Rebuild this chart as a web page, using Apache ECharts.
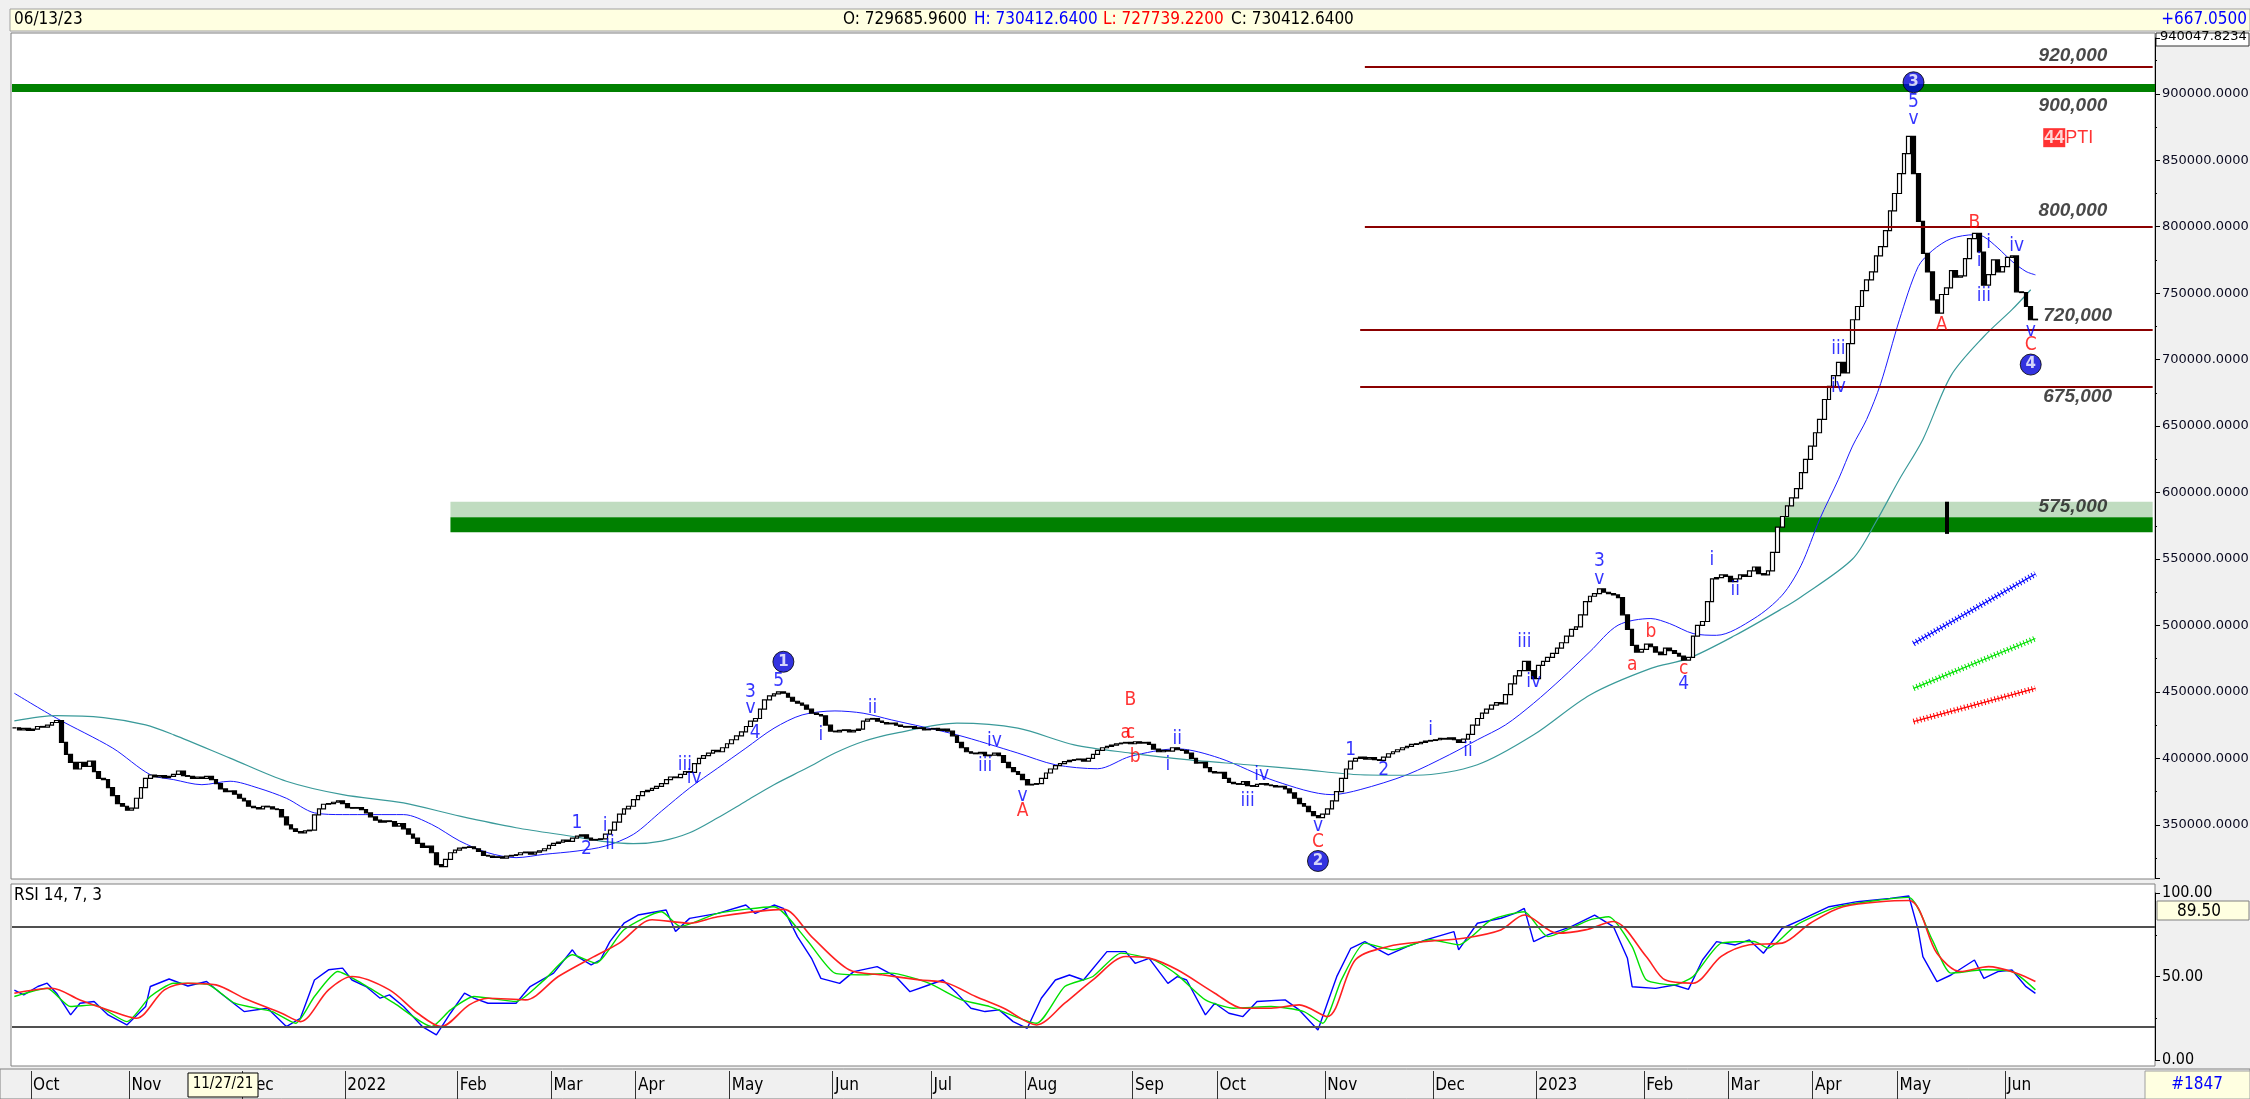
<!DOCTYPE html>
<html>
<head>
<meta charset="utf-8">
<script src="https://cdn.jsdelivr.net/npm/echarts@6/dist/echarts.min.js"></script>
<style>
html,body{margin:0;padding:0;background:#f0f0f0}
#chart{width:2250px;height:1099px}
</style>
</head>
<body>
<div id="chart"></div>
<script>
// month labels on the date strip and how many bars each month holds
var monthNames = ['Oct','Nov','Dec','2022','Feb','Mar','Apr','May','Jun','Jul','Aug','Sep','Oct','Nov','Dec','2023','Feb','Mar','Apr','May','Jun'];
var monthBars  = [21,24,22,24,20,18,20,22,21,20,23,18,23,23,22,23,18,18,18,23,7];
var leadBars = 4, padBars = 25;

// daily closes
var closes = [
423000,421500,422500,421000,422000,424000,423500,425000,427000,428500,
412000,403000,397000,392000,397000,394000,398000,390000,385000,384000,
378000,372000,366000,364000,361000,362500,370000,378000,385000,387500,
386000,387000,385500,386500,388000,390500,387000,386500,385000,386000,
385000,386500,384000,381000,377000,375000,375500,373000,370000,368000,
364000,363000,362000,364000,363500,362000,361500,356000,350000,347000,
345000,344000,345500,346000,357500,362000,365500,366000,367000,368000,
366000,363000,362500,363000,361500,359000,356000,353500,352000,353000,
352500,349000,351000,347000,343000,340000,336000,333000,334000,329000,
320000,318500,324000,329000,331000,332500,333000,333500,332000,330000,
327000,326500,325500,326000,325000,326500,327000,327500,329000,329500,
328000,329500,330500,332000,334500,336000,337000,338500,337500,340000,
341500,342500,340000,338500,339000,339500,343000,346000,352000,358000,
362000,364000,369000,372000,375000,376000,377500,379000,381000,384000,
386000,385500,388000,390000,389500,396000,400000,402000,404000,406000,
405000,408000,411000,414000,417000,420000,424000,428000,430000,437000,
444000,447000,448500,450000,449000,446000,443000,441500,440000,437000,
434000,433000,432000,425000,420500,420000,421000,421500,420000,421000,
422000,428000,429500,430000,428000,427000,426000,426500,425000,424000,
423500,424000,422500,423000,421500,422000,422500,421000,422000,420500,
417000,412000,408000,405000,404000,403500,404500,402000,402500,404000,
402000,397000,393000,390000,388000,384000,380000,380500,381000,385000,
389000,392000,394500,396000,397500,398500,399000,399500,398000,400000,
403000,406000,408000,409000,410000,411000,411500,412000,411000,412500,
411500,412000,410500,407000,405000,406000,405500,408000,406500,406000,
404000,400000,396500,397000,393000,390000,389000,389500,385000,382000,
381000,380500,382500,379500,379000,380500,381000,380000,379500,378500,
379000,377000,374000,370000,366000,364000,360000,357000,355500,358000,
362000,368000,375000,385000,392000,398000,400000,401000,399500,400500,
399000,398500,401000,403500,405000,406500,408000,409000,410500,411000,
412000,413000,413500,414000,415000,414500,415500,414000,412000,414500,
418000,425000,430000,434000,437000,440000,442000,441000,448000,456000,
462000,466000,473000,466000,460000,470000,473000,476000,479000,483000,
487000,492000,497000,499000,508000,518000,522000,524000,527500,525000,
524000,523000,521000,508000,497000,485000,480000,482000,486000,484000,
480000,478000,483000,481000,479000,477000,474000,476000,492000,500000,
503000,518000,535000,536000,538000,537000,533000,535000,538000,537000,
541000,544000,539000,538000,541000,555000,574000,582000,590000,596000,
603000,615000,625000,635000,645000,655000,670000,680000,688000,698000,
690000,712000,730000,740000,752000,760000,766000,778000,785000,797000,
812000,825000,840000,855000,868000,840000,804000,780000,766000,745000,
735000,749000,754000,767000,762000,763000,776000,791000,795000,781000,
756000,764000,775000,766000,770000,777000,778000,751000,750500,740000,
730000,730412.64
];

// moving averages read at [bar, price]
var maFast = [[0,449000],[9,430200],[21,407700],[29,387700],[34,384000],[40,380200],[46,382800],[52,377700],[58,370000],[64,359000],[70,357700],[83,357700],[89,350300],[95,337800],[101,329000],[107,325300],[113,327800],[120,330300],[126,334000],[132,342800],[138,360300],[144,377700],[150,392700],[156,407700],[162,422700],[168,432700],[175,435700],[181,434000],[187,429000],[201,417700],[214,404000],[222,395200],[231,392200],[238,401500],[248,407200],[257,400200],[269,382800],[281,372700],[287,376500],[297,387700],[306,402700],[312,414000],[318,425200],[324,441500],[330,460200],[336,480300],[342,500200],[349,505200],[353,501400],[358,493900],[363,492600],[371,505200],[377,522800],[381,545000],[385,580000],[389,610000],[392,635000],[395,655000],[398,682000],[402,730000],[406,770000],[409,782000],[413,791000],[418,794000],[420,792500],[423,784000],[426,774000],[429,766300],[431,763800]];
var maSlow = [[0,428200],[9,432200],[19,430700],[28,425200],[34,417700],[46,400200],[58,382800],[70,372700],[83,366500],[95,356500],[107,347800],[120,340800],[126,337300],[132,335800],[138,337800],[144,344000],[150,355300],[156,367800],[162,380200],[169,392700],[175,404000],[181,412700],[188,419000],[201,426500],[214,422700],[226,410200],[238,404000],[250,399000],[263,395200],[275,391500],[287,387700],[299,387300],[312,395200],[324,417700],[336,447700],[349,467700],[357,475200],[367,492600],[377,512700],[381,521500],[392,550000],[397,578000],[402,610000],[407,640000],[413,688000],[420,717400],[426,737600],[430,752600]];

// RSI 14, 7, 3 read at [bar, value]
var rsiMain = [[0,41.9],[2,39],[5,44],[7,46],[9,40],[12,27],[14,34],[17,35],[20,27],[24,21],[28,32],[29,44],[33,48.5],[37,44.3],[41,47],[44,40],[49,29],[54,31],[58,20],[61,25],[64,47.9],[67,54],[70,55],[72,47.9],[75,44],[78,37],[80,39],[83,32],[87,20],[90,15],[93,28],[96,40],[98,37],[101,34],[107,34],[110,44],[115,52],[119,66],[120,62],[123,57],[125,60],[127,70.9],[130,81.9],[133,86.8],[139,89.8],[141,76.9],[144,84.8],[150,87.8],[156,92.8],[158,87.8],[162,92.8],[164,90.8],[167,73.9],[170,60.9],[172,48.9],[176,45.9],[179,52.9],[184,55.9],[188,49.9],[191,40.9],[195,44.9],[198,47.9],[201,39.9],[204,31],[207,29],[210,30],[213,23],[216,19],[219,37],[222,47.9],[225,50.9],[228,47.9],[233,64.9],[237,64.9],[239,57.9],[242,60.9],[246,45.9],[248,49.9],[250,47.9],[254,27],[256,34],[259,28],[262,26],[265,35],[271,36],[274,30],[278,18],[280,34],[282,49.9],[285,66.9],[288,70.9],[291,65.9],[293,62.9],[297,67.9],[301,71.9],[307,76.9],[308,65.9],[312,81.9],[317,84.9],[320,87.8],[322,90.8],[324,70.9],[327,74.9],[332,79.9],[337,86.8],[341,79.9],[344,60.9],[345,43.9],[350,42.9],[354,44.9],[357,42.3],[360,59.9],[363,70.9],[367,68.9],[370,71.9],[373,63.9],[377,78.9],[381,83.9],[387,91.8],[393,94.8],[400,96.8],[404,98.2],[406,77.9],[407,61.9],[410,46.9],[413,50.9],[418,59.9],[420,48.9],[423,52.9],[426,53.9],[429,43.9],[431,39.9]];
var rsiFast = [[0,38],[7,43],[12,32],[17,33],[24,23],[29,38],[34,46],[41,45.5],[47,34],[55,29],[60,22],[64,38],[69,53],[74,46],[81,34],[89,20],[93,30],[98,38],[107,35],[113,48],[119,63],[124,58],[130,78],[138,88.8],[142,80],[150,87.8],[162,91.8],[169,71.9],[175,52],[181,51],[187,52],[195,46],[202,36],[208,32],[218,22],[224,44],[230,50],[236,64],[243,60],[248,51],[254,36],[260,31],[268,32],[275,29],[279,22],[283,48],[288,70],[294,66],[302,72],[308,69],[315,84],[322,88.8],[327,73.9],[336,83.9],[340,85.8],[345,67.9],[348,48],[354,45],[358,50],[364,70],[371,71],[374,67],[380,80.8],[389,91.8],[404,97.4],[409,71.9],[413,52],[420,54],[426,53],[431,42]];
var rsiSlow = [[0,40],[8,43],[14,36],[20,30],[26,25],[32,42],[37,46],[43,45],[49,37],[57,28],[61,23],[67,42],[72,50],[80,42],[86,28],[91,20],[97,33],[101,37],[109,36],[116,50],[123,61],[129,70],[136,84],[144,81.9],[150,85.8],[164,90.2],[170,73.9],[178,54],[185,51],[193,48],[199,46],[205,38],[211,31],[218,21],[224,34],[230,48],[237,62],[242,61],[248,54],[256,40],[262,31],[268,31],[274,33],[280,26],[286,60],[293,68],[301,71],[309,72.9],[317,77.9],[322,86.8],[329,75.9],[335,77.9],[341,82.9],[348,62],[352,48],[358,46],[364,62],[370,69],[377,70],[383,81.9],[390,91.8],[404,95.5],[410,63.9],[415,53],[421,55.9],[427,52],[431,47]];

// horizontal price levels [start bar, price]
var levelLines = [[288,920000],[288,800000],[287,722500],[287,679500]];
var greenLevel = 904500;
var zoneLight = [93,593100,581400];
var zoneDark = [93,581400,570200];
var markerBar = [412,593100,568900];
var levelTexts = [[439,928700,'920,000'],[439,891200,'900,000'],[439,812000,'800,000'],[440,733000,'720,000'],[440,672000,'675,000'],[439,589000,'575,000']];

// short trend lines [bar, price] pairs
var trendBlue  = [[405,486400],[431,538800]];
var trendGreen = [[405,452700],[431,490200]];
var trendRed   = [[405,427700],[431,452700]];

// Elliott wave labels [bar, price, text, colour]
var waveLabels = [
[120,351600,'1','b'],[122,332000,'2','b'],[126,349000,'i','b'],[127,335300,'ii','b'],
[143,395200,'iii','b'],[145,385000,'iv','b'],[157,450000,'3','b'],[157,437700,'v','b'],
[158,419000,'4','b'],[163,458000,'5','b'],[172,417700,'i','b'],[183,437700,'ii','b'],
[209,412800,'iv','b'],[207,394000,'iii','b'],[215,371500,'v','b'],[215,360000,'A','r'],
[238,444000,'B','r'],[237,419000,'a','r'],[238,419000,'c','r'],[239,400800,'b','r'],
[246,395200,'i','b'],[248,414700,'ii','b'],[263,368000,'iii','b'],[266,387700,'iv','b'],
[278,349000,'v','b'],[278,337300,'C','r'],[285,406000,'1','b'],[292,391500,'2','b'],
[302,421500,'i','b'],[310,405300,'ii','b'],[322,487700,'iii','b'],[324,457200,'iv','b'],
[338,548400,'3','b'],[338,535000,'v','b'],[345,470000,'a','r'],[349,495200,'b','r'],
[356,467200,'c','r'],[356,456000,'4','b'],[362,548900,'i','b'],[367,526400,'ii','b'],
[389,707600,'iii','b'],[389,679500,'iv','b'],[405,893700,'5','b'],[405,881200,'v','b'],
[418,803000,'B','r'],[421,787600,'i','b'],[419,773800,'i','b'],[420,747500,'iii','b'],
[427,785500,'iv','b'],[411,726300,'A','r'],[430,721300,'v','b'],[430,711300,'C','r']
];
var waveCircles = [[164,472700,'1'],[278,322800,'2'],[405,908700,'3'],[430,696300,'4']];
var ptiMark = [438,867000];

var FN = '"Liberation Sans Narrow","DejaVu Sans Condensed","Liberation Sans",sans-serif';
var FA = '"DejaVu Sans",sans-serif';

var cats = [], monthAt = {};
var n = leadBars;
for (var m = 0; m < monthNames.length; m++) { monthAt[n] = monthNames[m]; n += monthBars[m]; }
var total = n + padBars, lastIdx = total - 1;
for (var i = 0; i < total; i++) cats.push(String(i));

var ohlc = closes.map(function (c, i) {
  var o = i ? closes[i - 1] : c;
  return [o, c, Math.min(o, c), Math.max(o, c)];
});

function isMonth(idx) { return monthAt[idx] !== undefined; }

function trendSeries(data, color) {
  return [
    {type:'line', xAxisIndex:0, yAxisIndex:0, data:data, symbol:'none', z:4, silent:true,
     lineStyle:{color:color, width:1.2}},
    {type:'line', xAxisIndex:0, yAxisIndex:0, data:data, symbol:'none', z:4, silent:true,
     lineStyle:{color:color, width:6, type:[1,2.5]}}
  ];
}

var chart = echarts.init(document.getElementById('chart'));
var option = {
  animation: false,
  backgroundColor: '#f0f0f0',
  textStyle: {fontFamily: FN},
  grid: [
    {left:12, right:95, top:38, height:840, show:false, containLabel:false, outerBoundsMode:'none'},
    {left:12, right:95, top:893, height:167, show:false, containLabel:false, outerBoundsMode:'none'},
    {left:12, right:95, top:1071, height:28, show:false, containLabel:false, outerBoundsMode:'none'}
  ],
  xAxis: [
    {type:'category', gridIndex:0, data:cats, show:false},
    {type:'category', gridIndex:1, data:cats, show:false},
    {type:'category', gridIndex:2, data:cats,
     axisLine:{show:false},
     axisTick:{show:true, inside:true, length:28, interval:function (idx) { return isMonth(idx); }, lineStyle:{color:'#333', width:1}},
     axisLabel:{inside:true, interval:function (idx) { return isMonth(idx); }, formatter:function (v, idx) { return monthAt[idx] || ''; },
       align:'left', margin:5, fontSize:17, color:'#000', fontFamily:FN},
     splitLine:{show:false}}
  ],
  yAxis: [
    {type:'value', gridIndex:0, position:'right', min:310000, max:942000, splitNumber:13,
     axisLine:{show:true, onZero:false, lineStyle:{color:'#000'}},
     axisTick:{show:true, length:5, lineStyle:{color:'#000'}},
     minorTick:{show:true, splitNumber:2, length:2, lineStyle:{color:'#000'}},
     splitLine:{show:false},
     axisLabel:{showMinLabel:false, showMaxLabel:false, margin:7, color:'#0a0a20', fontSize:13, fontFamily:FA,
       formatter:function (v) { return v.toFixed(4); }}},
    {type:'value', gridIndex:1, position:'right', min:0, max:100, interval:50,
     axisLine:{show:true, onZero:false, lineStyle:{color:'#000'}},
     axisTick:{show:true, length:5, lineStyle:{color:'#000'}},
     minorTick:{show:true, splitNumber:2, length:2, lineStyle:{color:'#000'}},
     splitLine:{show:false},
     axisLabel:{margin:7, color:'#000', fontSize:16, fontFamily:FN,
       formatter:function (v) { return v.toFixed(2); }}},
    {type:'value', gridIndex:2, show:false}
  ],
  series: [
    {type:'candlestick', xAxisIndex:0, yAxisIndex:0, data:ohlc, barWidth:4.2, z:3, silent:true,
     itemStyle:{color:'#ffffff', color0:'#000000', borderColor:'#000000', borderColor0:'#000000', borderWidth:1.2},
     markLine:{silent:true, symbol:['none','none'], label:{show:false}, animation:false,
       data: levelLines.map(function (l) {
         return [{coord:[l[0], l[1]], lineStyle:{color:'#8B0000', width:2, type:'solid'}}, {coord:[lastIdx, l[1]]}];
       }).concat([
         {yAxis:greenLevel, lineStyle:{color:'#008000', width:8, type:'solid'}},
         [{coord:[markerBar[0], markerBar[1]], lineStyle:{color:'#000', width:4, type:'solid'}}, {coord:[markerBar[0], markerBar[2]]}]
       ])},
     markArea:{silent:true, label:{show:false},
       data:[
         [{coord:[zoneLight[0], zoneLight[1]], itemStyle:{color:'#C0DCC0'}}, {coord:[lastIdx, zoneLight[2]]}],
         [{coord:[zoneDark[0], zoneDark[1]], itemStyle:{color:'#008000'}}, {coord:[lastIdx, zoneDark[2]]}]
       ]}},
    {type:'line', xAxisIndex:0, yAxisIndex:0, data:maFast, symbol:'none', smooth:0.3, z:2, silent:true,
     lineStyle:{color:'#1a1aff', width:1}},
    {type:'line', xAxisIndex:0, yAxisIndex:0, data:maSlow, symbol:'none', smooth:0.3, z:2, silent:true,
     lineStyle:{color:'#3a9a9a', width:1.2}}
  ].concat(trendSeries(trendBlue, '#0000ff'), trendSeries(trendGreen, '#00e000'), trendSeries(trendRed, '#ff0000'), [
    {type:'scatter', xAxisIndex:0, yAxisIndex:0, z:6, silent:true, symbolSize:1, itemStyle:{color:'rgba(0,0,0,0)'},
     data: levelTexts.map(function (t) { return {value:[t[0], t[1]], t:t[2]}; }),
     label:{show:true, position:'inside', formatter:function (p) { return p.data.t; },
       color:'#1a1a1a', fontStyle:'italic', fontWeight:'bold', fontSize:19, fontFamily:'"Liberation Sans",sans-serif'}},
    {type:'scatter', xAxisIndex:0, yAxisIndex:0, z:6, silent:true, symbolSize:1, itemStyle:{color:'rgba(0,0,0,0)'},
     data: waveLabels.map(function (w) {
       return {value:[w[0], w[1]], t:w[2], label:{color: w[3] === 'r' ? '#ff0000' : '#0000ff'}};
     }),
     label:{show:true, position:'inside', formatter:function (p) { return p.data.t; }, fontSize:19, fontFamily:FN}},
    {type:'scatter', xAxisIndex:0, yAxisIndex:0, z:7, silent:true, symbolSize:21,
     itemStyle:{color:'#0000d8', borderColor:'#000', borderWidth:1},
     data: waveCircles,
     label:{show:true, position:'inside', formatter:function (p) { return p.data[2]; }, color:'#fff', fontWeight:'bold', fontSize:15, fontFamily:FA}},
    {type:'scatter', xAxisIndex:0, yAxisIndex:0, z:7, silent:true, symbolSize:1, itemStyle:{color:'rgba(0,0,0,0)'},
     data:[ptiMark],
     label:{show:true, position:'inside', formatter:'{a|44}{b|PTI}',
       rich:{a:{backgroundColor:'#ff0000', color:'#fff', fontWeight:'bold', fontSize:18, padding:[1,1,0,1], fontFamily:'"Liberation Sans",sans-serif'},
             b:{color:'#ff0000', fontSize:18, fontFamily:'"Liberation Sans",sans-serif'}}}},
    {type:'line', xAxisIndex:1, yAxisIndex:1, data:rsiMain, symbol:'none', z:4, silent:true,
     lineStyle:{color:'#0000ff', width:1.4},
     markLine:{silent:true, symbol:['none','none'], label:{show:false},
       lineStyle:{color:'#505050', width:2, type:'solid'}, data:[{yAxis:80},{yAxis:20}]}},
    {type:'line', xAxisIndex:1, yAxisIndex:1, data:rsiFast, symbol:'none', smooth:0.2, z:4, silent:true,
     lineStyle:{color:'#00e000', width:1.4}},
    {type:'line', xAxisIndex:1, yAxisIndex:1, data:rsiSlow, symbol:'none', smooth:0.3, z:4, silent:true,
     lineStyle:{color:'#ff2020', width:1.6}}
  ]),
  graphic: [
    {type:'rect', z:-1, silent:true, shape:{x:11, y:33, width:2144, height:846}, style:{fill:'#fff', stroke:'#808080', lineWidth:1}},
    {type:'rect', z:-1, silent:true, shape:{x:11, y:884, width:2144, height:182}, style:{fill:'#fff', stroke:'#808080', lineWidth:1}},
    {type:'rect', z:-1, silent:true, shape:{x:0, y:1069, width:2250, height:30}, style:{fill:'#f0f0f0', stroke:'#808080', lineWidth:1}},
    {type:'rect', silent:true, shape:{x:10, y:9, width:2240, height:22}, style:{fill:'#ffffe1', stroke:'#a0a0a0', lineWidth:1}},
    {type:'text', silent:true, x:14, y:11, style:{text:'06/13/23', font:'17px ' + FN, fill:'#000'}},
    {type:'text', silent:true, x:843, y:11, style:{text:'O: 729685.9600', font:'17px ' + FN, fill:'#000'}},
    {type:'text', silent:true, x:974, y:11, style:{text:'H: 730412.6400', font:'17px ' + FN, fill:'#0000ff'}},
    {type:'text', silent:true, x:1103, y:11, style:{text:'L: 727739.2200', font:'17px ' + FN, fill:'#ff0000'}},
    {type:'text', silent:true, x:1231, y:11, style:{text:'C: 730412.6400', font:'17px ' + FN, fill:'#000'}},
    {type:'text', silent:true, x:2247, y:11, style:{text:'+667.0500', font:'17px ' + FN, fill:'#0000ff', align:'right', textAlign:'right'}},
    {type:'rect', silent:true, shape:{x:2156, y:33, width:93, height:13}, style:{fill:'#fff', stroke:'#333', lineWidth:1}},
    {type:'text', silent:true, x:2160, y:30, style:{text:'940047.8234', font:'13px ' + FA, fill:'#000'}},
    {type:'text', silent:true, x:14, y:887, style:{text:'RSI 14, 7, 3', font:'17px ' + FN, fill:'#000'}},
    {type:'rect', silent:true, z:50, shape:{x:2157, y:901, width:92, height:19}, style:{fill:'#ffffe1', stroke:'#808080', lineWidth:1}},
    {type:'text', silent:true, z:51, x:2199, y:903, style:{text:'89.50', font:'17px ' + FN, fill:'#000', align:'center', textAlign:'center'}},
    {type:'rect', silent:true, z:50, shape:{x:188, y:1073, width:70, height:24}, style:{fill:'#ffffe1', stroke:'#000', lineWidth:1}},
    {type:'text', silent:true, z:51, x:223, y:1077, style:{text:'11/27/21', font:'15px ' + FN, fill:'#000', align:'center', textAlign:'center'}},
    {type:'rect', silent:true, z:50, shape:{x:2145, y:1071, width:105, height:28}, style:{fill:'#ffffe1', stroke:'#a0a0a0', lineWidth:1}},
    {type:'text', silent:true, z:51, x:2197, y:1076, style:{text:'#1847', font:'17px ' + FN, fill:'#0000ff', align:'center', textAlign:'center'}}
  ]
};
chart.setOption(option);
</script>
</body>
</html>
